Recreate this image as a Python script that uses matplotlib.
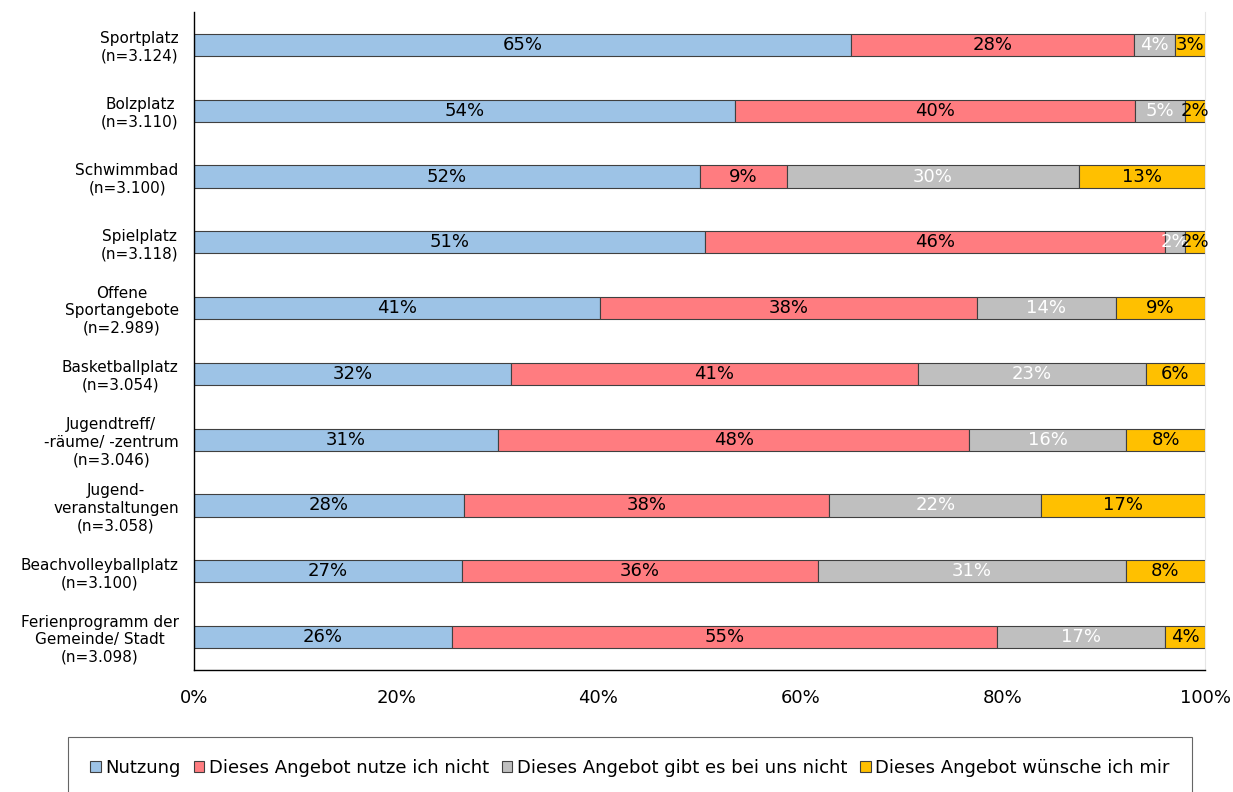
import matplotlib.pyplot as plt
import numpy as np

plt.rcParams['font.family'] = ['DejaVu Sans']

categories = [
    'Sportplatz\n(n=3.124)',
    'Bolzplatz\n(n=3.110)',
    'Schwimmbad\n(n=3.100)',
    'Spielplatz\n(n=3.118)',
    'Offene\nSportangebote\n(n=2.989)',
    'Basketballplatz\n(n=3.054)',
    'Jugendtreff/\n-räume/ -zentrum\n(n=3.046)',
    'Jugend-\nveranstaltungen\n(n=3.058)',
    'Beachvolleyballplatz\n(n=3.100)',
    'Ferienprogramm der\nGemeinde/ Stadt\n(n=3.098)',
]

nutzung = [65, 54, 52, 51, 41, 32, 31, 28, 27, 26]
nutze_nicht = [28, 40, 9, 46, 38, 41, 48, 38, 36, 55]
gibt_nicht = [4, 5, 30, 2, 14, 23, 16, 22, 31, 17]
wuensche = [3, 2, 13, 2, 9, 6, 8, 17, 8, 4]

series_names = ['Nutzung', 'Dieses Angebot nutze ich nicht',
                'Dieses Angebot gibt es bei uns nicht',
                'Dieses Angebot wünsche ich mir']
colors = ['#9DC3E6', '#FF7C80', '#BFBFBF', '#FFC000']
text_colors = ['black', 'black', 'white', 'black']

data = np.array([nutzung, nutze_nicht, gibt_nicht, wuensche], dtype=float)
# 100%-gestapelt: jede Zeile auf ihre Summe normiert
shares = data / data.sum(axis=0) * 100

fig = plt.figure(figsize=(12.33, 7.92), dpi=100)
ax = fig.add_axes([194 / 1233, 1 - 670 / 792, 1011 / 1233, 658 / 792])

y = np.arange(len(categories))
left = np.zeros(len(categories))
for i in range(4):
    bars = ax.barh(y, shares[i], left=left, height=0.34, color=colors[i],
                   edgecolor='#404040', linewidth=0.8, label=series_names[i])
    for j, b in enumerate(bars):
        cx = left[j] + shares[i][j] / 2
        ax.text(cx, y[j], f'{int(data[i][j])}%', ha='center', va='center',
                fontsize=13, color=text_colors[i])
    left += shares[i]

ax.set_xlim(0, 100)
ax.set_ylim(len(categories) - 0.5, -0.5)
ax.set_yticks(y)
ax.set_yticklabels(categories, fontsize=11, multialignment='center')
ax.set_xticks(np.arange(0, 101, 20))
ax.set_xticklabels([f'{v}%' for v in range(0, 101, 20)], fontsize=13)
ax.tick_params(axis='both', length=0)
ax.tick_params(axis='x', pad=14)
ax.tick_params(axis='y', pad=11)

ax.spines['top'].set_visible(False)
ax.spines['right'].set_color('#E6E6E6')
for s in ['left', 'bottom']:
    ax.spines[s].set_color('black')
    ax.spines[s].set_linewidth(1.0)

leg = fig.legend(loc='upper center', bbox_to_anchor=(630 / 1233, 1 - 737 / 792),
                 ncol=4, fontsize=13, frameon=True, fancybox=False,
                 handlelength=0.6, handleheight=0.6, handletextpad=0.25,
                 columnspacing=0.7, borderpad=1.2, borderaxespad=0)
leg.get_frame().set_edgecolor('#404040')
leg.get_frame().set_linewidth(0.8)

plt.savefig('out.png', dpi=100)
